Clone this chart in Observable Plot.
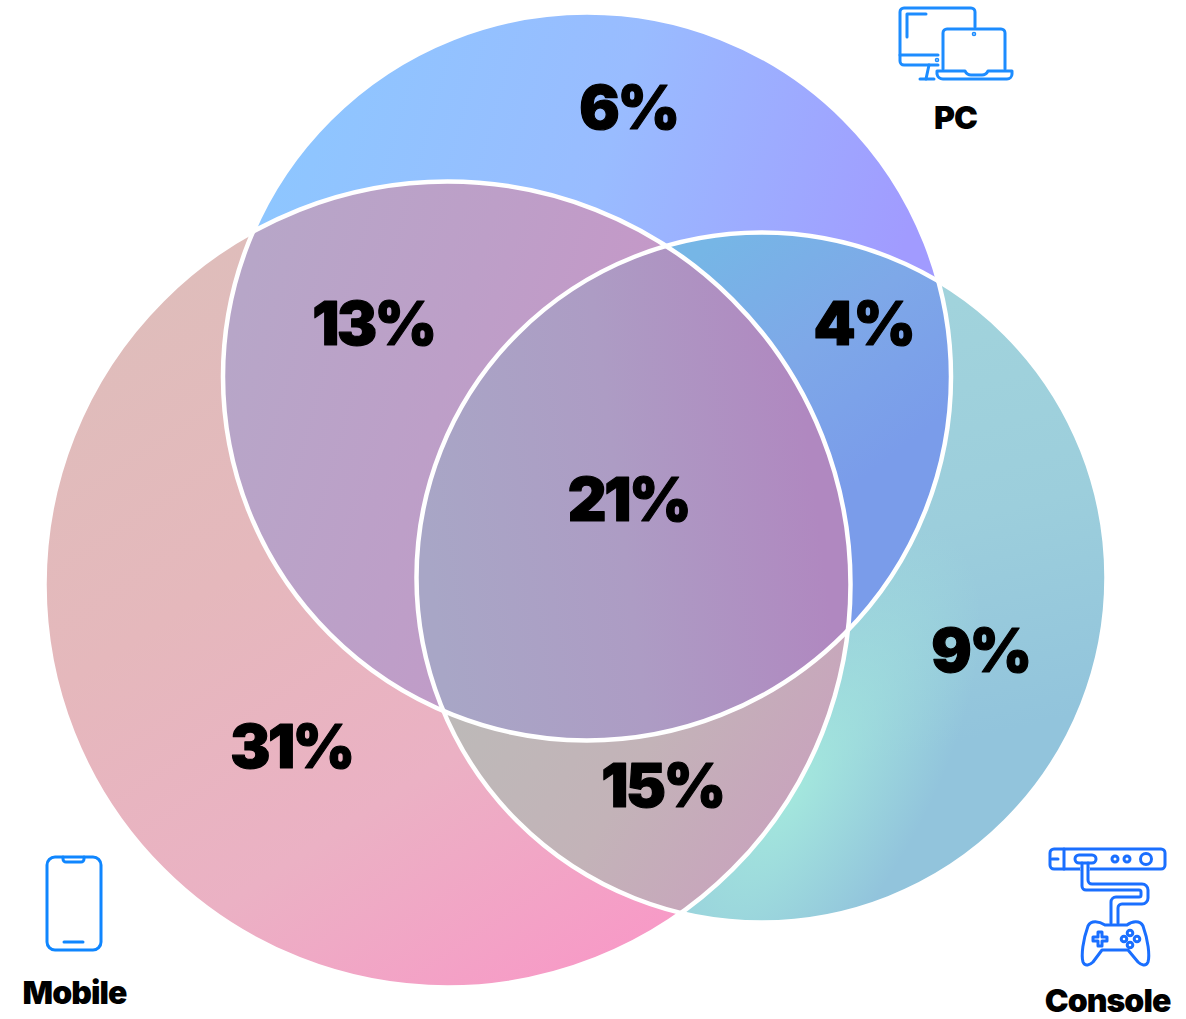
<!DOCTYPE html>
<html>
<head>
<meta charset="utf-8">
<script src="https://cdn.jsdelivr.net/npm/d3@7"></script>
<script src="https://cdn.jsdelivr.net/npm/@observablehq/plot@0.6"></script>
<style>
  html, body { margin: 0; padding: 0; background: #fff; }
  svg { display: block; }
  .share-label text { letter-spacing: -0.04em; }
  .platform-label text { letter-spacing: -0.03em; }
</style>
</head>
<body>
<div id="chart"></div>
<script>
// Share of players by the platforms they use
const regionNames = ["PC", "Mobile + PC", "PC + Console", "All three", "Console", "Mobile", "Mobile + Console"];
const regionShares = [6, 13, 4, 21, 9, 31, 15];
const regionLabelX = [628, 373, 863, 628, 980, 291, 662];
const regionLabelY = [109, 325, 325, 501, 652, 748, 787];

const platformNames = ["PC", "Mobile", "Console"];
const platformLabelX = [955, 74, 1107];
const platformLabelY = [118, 993, 1001];

// Circle geometry, in page pixels
const circleX = [586.5, 447, 761];
const circleY = [376, 584, 577];
const circleR = [364, 403, 345];

const circles = platformNames.map((name, i) => ({name, x: circleX[i], y: circleY[i], r: circleR[i]}));
const [pc, mobile, consoleC] = circles;

const regions = regionNames.map((name, i) => ({name, share: regionShares[i], x: regionLabelX[i], y: regionLabelY[i]}));
const platforms = platformNames.map((name, i) => ({name, x: platformLabelX[i], y: platformLabelY[i]}));

const heavy = "Inter, Roboto, 'Liberation Sans', sans-serif";
const svgNS = "http://www.w3.org/2000/svg";

// Gradient stops per region: [x1, y1, x2, y2, stops]
const gradients = {
  gPc: [300, 90, 900, 260, ["#8ec6ff", "#99bcff", "#a19bff"]],
  gMobile: [150, 300, 600, 985, ["#dfbdbb", "#e5b8bc", "#ebb1c4", "#f899c7"]],
  gPcMobile: [240, 300, 660, 420, ["#b7a6c8", "#bd9fc8", "#c697c8"]],
  gPcConsole: [690, 260, 860, 480, ["#76b6e6", "#7ea8e8", "#7a9cea"]],
  gMobileConsole: [460, 720, 760, 900, ["#bdb9b8", "#c3b3b8", "#c9a2bd"]],
  gAll: [430, 580, 820, 530, ["#a8a6c6", "#ad9cc4", "#b088c0"]],
  gConsole: [950, 300, 1050, 720, ["#a1d3dc", "#9ccedc", "#92c4dc"]]
};

function defsMark() {
  const g = document.createElementNS(svgNS, "g");
  const defs = g.appendChild(document.createElementNS(svgNS, "defs"));
  for (const [id, [x1, y1, x2, y2, stops]] of Object.entries(gradients)) {
    const lg = d3.select(defs).append("linearGradient").attr("id", id)
      .attr("gradientUnits", "userSpaceOnUse")
      .attr("x1", x1).attr("y1", y1).attr("x2", x2).attr("y2", y2);
    stops.forEach((c, k) => lg.append("stop").attr("offset", k / (stops.length - 1)).attr("stop-color", c));
  }
  // Soft mint glow along the lower-left rim of the console circle
  const rg = d3.select(defs).append("radialGradient").attr("id", "gConsoleGlow")
    .attr("gradientUnits", "userSpaceOnUse")
    .attr("cx", 0).attr("cy", 0).attr("r", 1)
    .attr("gradientTransform", "translate(790,790) rotate(-59) scale(300,130)");
  rg.append("stop").attr("offset", 0).attr("stop-color", "#a4e8dd");
  rg.append("stop").attr("offset", 1).attr("stop-color", "#a4e8dd").attr("stop-opacity", 0);
  const clip = (id, c, parent) => {
    const cp = d3.select(defs).append("clipPath").attr("id", id);
    if (parent) cp.attr("clip-path", `url(#${parent})`);
    cp.append("circle").attr("cx", c.x).attr("cy", c.y).attr("r", c.r);
  };
  clip("clipPc", pc);
  clip("clipMobile", mobile);
  clip("clipPcMobile", pc, "clipMobile");
  return g;
}

// Renders a dot layer inside one of the clip paths
const clipTo = (id) => (index, scales, values, dimensions, context, next) => {
  const g = next(index, scales, values, dimensions, context);
  g.setAttribute("clip-path", `url(#${id})`);
  return g;
};

const disc = (c, fill, clip) => Plot.dot([c], {
  x: "x", y: "y", r: "r", fill,
  stroke: "none",
  ...(clip ? {render: clipTo(clip)} : {})
});

// Platform pictograms, laid out through the position scales
function iconMark(index, {x, y}) {
  const root = d3.create("svg:g").attr("fill", "none")
    .attr("stroke-linecap", "round").attr("stroke-linejoin", "round");
  const at = (g, dx, dy) => g.attr("transform", `translate(${x(dx)},${y(dy)})`);

  // PC: monitor and laptop
  const pcIcon = at(root.append("g"), 880, 0).attr("stroke", "#1c8cff").attr("stroke-width", 3);
  [
    "M95,27V12a4,4 0 0 0-4-4H24a4,4 0 0 0-4,4V61a4,4 0 0 0 4,4H58",
    "M46,14H27V37",
    "M20,55H58",
    "M49,65L46,79",
    "M40,79H54",
    "M63,69V33a4,4 0 0 1 4-4H121a4,4 0 0 1 4,4V69",
    "M57,71H85q2,4 6,4h11q4,0 6-4h24v3a5,5 0 0 1-5,5H63a6,6 0 0 1-6-5z"
  ].forEach(d => pcIcon.append("path").attr("d", d));
  pcIcon.append("circle").attr("cx", 57).attr("cy", 60).attr("r", 0.8);
  pcIcon.append("circle").attr("cx", 94).attr("cy", 34).attr("r", 0.8);

  // Mobile: phone
  const phone = at(root.append("g"), 0, 845).attr("stroke", "#0f86ff").attr("stroke-width", 3);
  phone.append("rect").attr("x", 47).attr("y", 12).attr("width", 54).attr("height", 93).attr("rx", 8);
  phone.append("path").attr("d", "M63,12v2a3,3 0 0 0 3,3H81a3,3 0 0 0 3-3v-2");
  phone.append("path").attr("d", "M64,97H83");

  // Console: base unit, cable and gamepad
  const pad = at(root.append("g"), 1030, 835).attr("stroke", "#1a6fff").attr("stroke-width", 3);
  pad.append("rect").attr("x", 20).attr("y", 14).attr("width", 115).attr("height", 20).attr("rx", 4);
  pad.append("path").attr("d", "M34,14V34M22,24H28");
  pad.append("path").attr("d", "M52,34H58").attr("stroke", "#fff").attr("stroke-width", 4);
  pad.append("rect").attr("x", 45).attr("y", 20).attr("width", 21).attr("height", 8).attr("rx", 4);
  pad.append("path").attr("d", "M58,28V45a4,4 0 0 0 4,4H112a6,6 0 0 1 6,6V63a6,6 0 0 1-6,6H92a4,4 0 0 0-4,4V88");
  pad.append("path").attr("d", "M52,28V51a4,4 0 0 0 4,4H109a2,2 0 0 1 2,2V60a2,2 0 0 1-2,2H86a5,5 0 0 0-5,5V88");
  pad.append("path").attr("d", "M75,90H97C102,86 110,85 113,91C118,105 120,120 118,127C116,132 111,130 108,127L98,115H72L63,127C60,130 55,132 53,127C51,120 53,105 58,91C61,85 69,86 75,90Z");
  pad.append("path").attr("d", "M68,97h4v5h5v4h-5v5h-4v-5h-5v-4h5z");
  for (const [cx, cy, r] of [[85, 24, 3], [97, 24, 3], [116, 24, 5.5], [100, 98, 2.8], [100, 110, 2.8], [94, 104, 2.8], [107, 104, 2.8]]) {
    pad.append("circle").attr("cx", cx).attr("cy", cy).attr("r", r);
  }
  return root.node();
}

const chart = Plot.plot({
  width: 1186,
  height: 1019,
  margin: 0,
  x: {type: "identity", axis: null},
  y: {type: "identity", axis: null},
  r: {type: "identity"},
  style: {background: "#fff"},
  marks: [
    defsMark,
    disc(pc, "url(#gPc)"),
    disc(mobile, "url(#gMobile)"),
    disc(consoleC, "url(#gConsole)"),
    disc(consoleC, "url(#gConsoleGlow)"),
    disc(mobile, "url(#gPcMobile)", "clipPc"),
    disc(consoleC, "url(#gPcConsole)", "clipPc"),
    disc(consoleC, "url(#gMobileConsole)", "clipMobile"),
    disc(consoleC, "url(#gAll)", "clipPcMobile"),
    Plot.dot(circles, {x: "x", y: "y", r: "r", fill: "none", stroke: "#fff", strokeWidth: 4.5}),
    iconMark,
    Plot.text(regions, {
      x: "x", y: "y", text: d => `${d.share}%`,
      fontFamily: heavy, fontWeight: 900, fontSize: 60, fill: "#000",
      stroke: "#000", strokeWidth: 1.2, className: "share-label"
    }),
    Plot.text(platforms, {
      x: "x", y: "y", text: "name",
      fontFamily: heavy, fontWeight: 900, fontSize: 32, fill: "#000",
      className: "platform-label"
    })
  ]
});
document.getElementById("chart").append(chart);
</script>
</body>
</html>
